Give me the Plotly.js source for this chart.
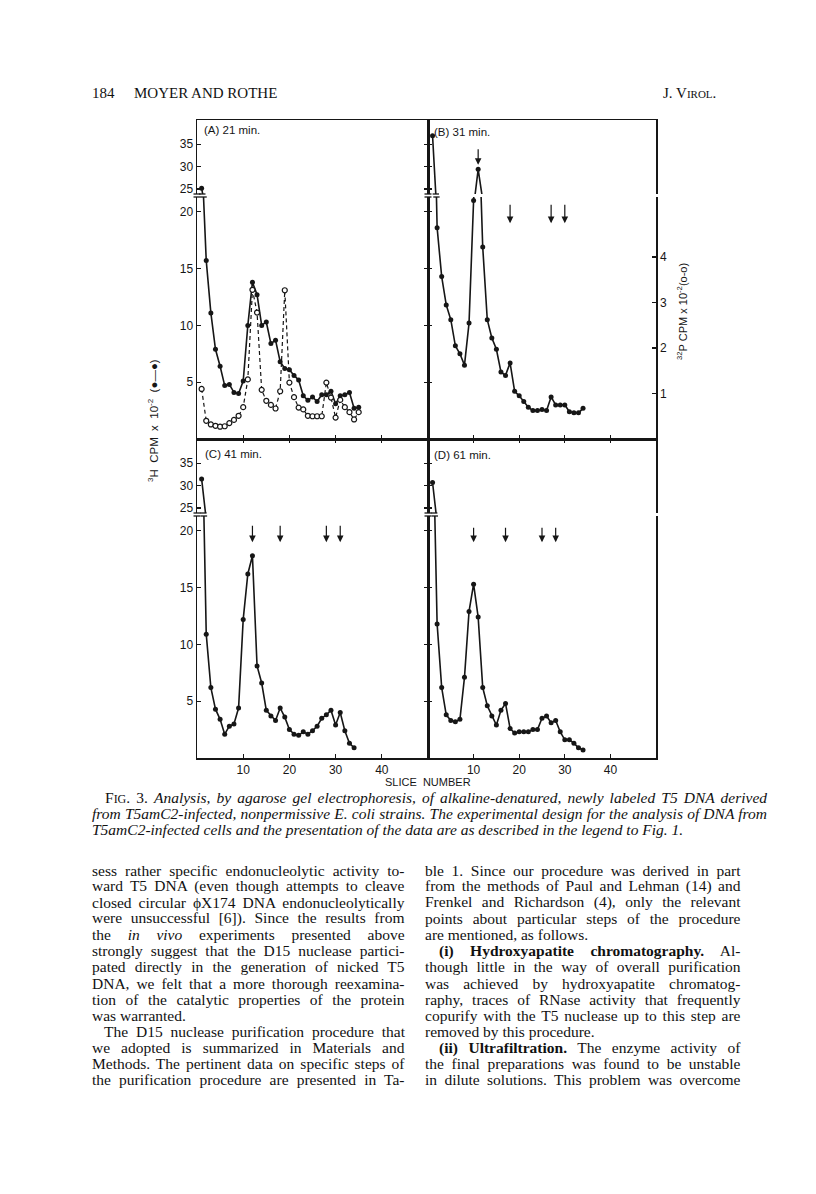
<!DOCTYPE html>
<html>
<head>
<meta charset="utf-8">
<script src="https://cdn.plot.ly/plotly-3.0.1.min.js"></script>
<style>
  html, body { margin: 0; padding: 0; background: #fff; }
  #page { width: 816px; height: 1194px; }
</style>
</head>
<body>
<div id="page"></div>
<script>
// counts per gel slice (CPM x 10^-2)
var h3A = [25.2, 15.7, 11.1, 7.9, 6.4, 4.7, 4.8, 4.1, 4.0, 5.1, 10.0, 13.8, 12.7, 10.0, 10.3, 8.4, 8.7, 6.8,
           6.2, 6.1, 5.6, 5.2, 3.8, 3.4, 3.7, 3.3, 3.9, 3.9, 4.2, 3.1, 3.8, 3.9, 4.1, 2.7, 2.8];
var p32A = [1.10, 0.40, 0.32, 0.29, 0.27, 0.28, 0.35, 0.42, 0.51, 0.70, 1.31, 3.28, 2.78, 1.08, 0.84, 0.75,
            0.67, 1.05, 3.27, 1.24, 0.92, 0.69, 0.65, 0.51, 0.50, 0.50, 0.50, 1.24, 0.91, 0.47, 0.86, 0.70,
            0.59, 0.43, 0.59];
var h3B = [36.9, 18.6, 14.3, 11.8, 10.5, 8.2, 7.5, 6.5, 10.2, 21.0, 29.4, 16.9, 10.5, 8.9, 7.9, 5.9, 5.6,
           6.7, 4.2, 3.8, 3.3, 2.8, 2.5, 2.5, 2.6, 2.5, 3.7, 3.0, 3.0, 3.0, 2.4, 2.3, 2.3, 2.7];
var h3C = [31.5, 10.9, 6.2, 4.3, 3.4, 2.1, 2.8, 3.0, 4.4, 12.2, 16.2, 17.8, 8.1, 6.6, 4.2, 3.7, 3.3, 4.4,
           3.6, 2.5, 2.1, 2.0, 2.3, 2.1, 2.4, 2.8, 3.5, 3.8, 4.2, 2.9, 4.0, 2.4, 1.3, 0.9];
var h3D = [30.7, 11.8, 6.2, 3.8, 3.3, 3.2, 3.4, 7.1, 12.9, 15.3, 12.4, 6.2, 4.6, 3.7, 2.9, 4.2, 4.8, 2.6,
           2.2, 2.3, 2.3, 2.3, 2.5, 2.5, 3.5, 3.7, 3.1, 3.3, 2.3, 1.6, 1.6, 1.3, 0.9, 0.7];

// slices marked with arrows
var arrowsB = [11, 18, 27, 30];
var arrowsC = [12, 18, 28, 31];
var arrowsD = [10, 17, 25, 28];

var xTicks = [10, 20, 30, 40];
var yTicksLow = [5, 10, 15, 20];
var yTicksHigh = [25, 30, 35];
var p32Ticks = [1, 2, 3, 4];
var panelLabels = ['(A) 21 min.', '(B) 31 min.', '(C) 41 min.', '(D) 61 min.'];

var W = 816, H = 1194;
function fx(p) { return p / W; }
function fy(p) { return 1 - p / H; }

var lowRange = [0, 21.3], highRange = [23.9, 40.4], p32Range = [0, 5.32];
var colL = [197, 428], colR = [428, 656];
var rows = [{t: 120, b: 439}, {t: 439, b: 758}];
function lowDom(r) { return [fy(r.b), fy(r.b - 242)]; }
function highDom(r) { return [fy(r.t + 74), fy(r.t)]; }

var ink = '#161616';
var sans = 'Liberation Sans, Arial, sans-serif';
var serif = 'Liberation Serif, Times New Roman, serif';

function slices(vals) { return vals.map(function (v, i) { return i + 1; }); }

function solid(vals, xa, ya) {
    return {
        x: slices(vals), y: vals, xaxis: xa, yaxis: ya,
        mode: 'lines+markers', showlegend: false, hoverinfo: 'skip',
        line: {color: ink, width: 1.6},
        marker: {color: ink, size: 5}
    };
}

var data = [
    {
        x: slices(p32A), y: p32A, xaxis: 'x', yaxis: 'y9',
        mode: 'lines+markers', showlegend: false, hoverinfo: 'skip',
        line: {color: ink, width: 1.2, dash: '4px,3px'},
        marker: {color: '#fff', size: 5, line: {color: ink, width: 1.2}}
    },
    solid(h3A, 'x', 'y'), solid(h3A, 'x2', 'y2'),
    solid(h3B, 'x3', 'y3'), solid(h3B, 'x4', 'y4'),
    solid(h3C, 'x5', 'y5'), solid(h3C, 'x6', 'y6'),
    solid(h3D, 'x7', 'y7'), solid(h3D, 'x8', 'y8'),
    // empty trace so the 32P scale on the right of panel B gets drawn
    {x: [null], y: [null], xaxis: 'x3', yaxis: 'y10', mode: 'markers', showlegend: false, hoverinfo: 'skip'}
];

function axBase() {
    return {
        showgrid: false, zeroline: false, showline: true, linecolor: ink, linewidth: 1.5,
        ticks: 'inside', ticklen: 4, tickwidth: 1.3, tickcolor: ink,
        tickfont: {family: sans, size: 12, color: ink}, fixedrange: true
    };
}
function xAx(dom, anchor, opts) {
    return Object.assign(axBase(), {domain: dom, anchor: anchor, range: [0, 50], tickvals: xTicks,
        showticklabels: false}, opts || {});
}
function yAx(dom, anchor, range, ticks, opts) {
    return Object.assign(axBase(), {domain: dom, anchor: anchor, range: range, tickvals: ticks,
        showticklabels: false}, opts || {});
}
var dL = [fx(colL[0]), fx(colL[1])], dR = [fx(colR[0]), fx(colR[1])];

var layout = {
    width: W, height: H, autosize: false,
    margin: {l: 0, r: 0, t: 0, b: 0},
    paper_bgcolor: '#fff', plot_bgcolor: 'rgba(0,0,0,0)',
    font: {family: sans, color: ink},
    // panel A
    xaxis: xAx(dL, 'y'),
    xaxis2: xAx(dL, 'y2', {side: 'top', ticks: ''}),
    yaxis: yAx(lowDom(rows[0]), 'x', lowRange, yTicksLow, {showticklabels: true, mirror: 'ticks'}),
    yaxis2: yAx(highDom(rows[0]), 'x2', highRange, yTicksHigh, {showticklabels: true, mirror: 'ticks'}),
    yaxis9: {overlaying: 'y', range: p32Range, visible: false, fixedrange: true},
    // panel B
    xaxis3: xAx(dR, 'y3'),
    xaxis4: xAx(dR, 'y4', {side: 'top', ticks: ''}),
    yaxis3: yAx(lowDom(rows[0]), 'x3', lowRange, yTicksLow),
    yaxis4: yAx(highDom(rows[0]), 'x4', highRange, yTicksHigh, {mirror: true}),
    yaxis10: yAx(lowDom(rows[0]), 'x3', p32Range, p32Ticks, {overlaying: 'y3', side: 'right',
        showticklabels: true}),
    // panel C
    xaxis5: xAx(dL, 'y5', {showticklabels: true}),
    xaxis6: xAx(dL, 'y6', {side: 'top'}),
    yaxis5: yAx(lowDom(rows[1]), 'x5', lowRange, yTicksLow, {showticklabels: true, mirror: 'ticks'}),
    yaxis6: yAx(highDom(rows[1]), 'x6', highRange, yTicksHigh, {showticklabels: true, mirror: 'ticks'}),
    // panel D
    xaxis7: xAx(dR, 'y7', {showticklabels: true}),
    xaxis8: xAx(dR, 'y8', {side: 'top'}),
    yaxis7: yAx(lowDom(rows[1]), 'x7', lowRange, yTicksLow, {mirror: true}),
    yaxis8: yAx(highDom(rows[1]), 'x8', highRange, yTicksHigh, {mirror: true}),
    shapes: [],
    annotations: []
};

// axis break marks on the frame lines and on the data line
function hLine(x0, x1, y, xref) {
    return {type: 'line', xref: xref || 'paper', yref: 'paper', x0: x0, x1: x1, y0: y, y1: y,
        line: {color: ink, width: 1.3}};
}
rows.forEach(function (r) {
    [colL[0], colL[1]].forEach(function (px) {
        layout.shapes.push(hLine(fx(px - 3.5), fx(px + 3.5), fy(r.t + 74)));
        layout.shapes.push(hLine(fx(px - 3.5), fx(px + 3.5), fy(r.t + 77)));
    });
});
function crossing(vals, level) {
    for (var i = 0; i < vals.length - 1; i++) {
        if (vals[i] > level && vals[i + 1] <= level) {
            return i + 1 + (vals[i] - level) / (vals[i] - vals[i + 1]);
        }
    }
}
[[h3A, 'x', rows[0]], [h3B, 'x3', rows[0]], [h3C, 'x5', rows[1]], [h3D, 'x7', rows[1]]].forEach(function (p) {
    var cu = crossing(p[0], highRange[0]), cl = crossing(p[0], lowRange[1]);
    layout.shapes.push(hLine(cu - 0.7, cu + 0.7, fy(p[2].t + 74), p[1]));
    layout.shapes.push(hLine(cl - 0.7, cl + 0.7, fy(p[2].t + 77), p[1]));
});

// arrows over the slices
function arrow(x, y, xa, ya, len) {
    return {x: x, y: y, xref: xa, yref: ya, text: '', showarrow: true, ax: 0, ay: -len,
        arrowhead: 2, arrowsize: 1.1, arrowwidth: 1.2, arrowcolor: ink};
}
layout.annotations.push(arrow(arrowsB[0], 30.4, 'x4', 'y4', 17));
arrowsB.slice(1).forEach(function (s) { layout.annotations.push(arrow(s, 19.0, 'x3', 'y3', 20)); });
arrowsC.forEach(function (s) { layout.annotations.push(arrow(s, 19.0, 'x5', 'y5', 18)); });
arrowsD.forEach(function (s) { layout.annotations.push(arrow(s, 19.0, 'x7', 'y7', 16)); });

function label(text, x, y, opts) {
    var a = Object.assign({text: text, x: fx(x), y: fy(y), xref: 'paper', yref: 'paper',
        showarrow: false, xanchor: 'left', yanchor: 'middle', align: 'left',
        font: {family: sans, size: 11.5, color: ink}}, opts || {});
    layout.annotations.push(a);
    return layout.annotations.length - 1;
}

label(panelLabels[0], 202, 130);
label(panelLabels[1], 432, 132);
label(panelLabels[2], 203, 454);
label(panelLabels[3], 432, 455);
label('SLICE  NUMBER', 428, 782, {xanchor: 'center', font: {family: sans, size: 11, color: ink}});
label('<sup>3</sup>H  CPM  x  10<sup>-2</sup>  (●—●)', 153, 421,
    {xanchor: 'center', textangle: -90, font: {family: sans, size: 11.5, color: ink}});
label('<sup>32</sup>P CPM x 10<sup>-2</sup>(o-o)', 682, 312,
    {xanchor: 'center', textangle: -90, font: {family: sans, size: 11, color: ink}});

// page text
var justify = {};
function serifLine(text, x, y, size, width) {
    var i = label(text, x, y, {font: {family: serif, size: size, color: '#111'}});
    if (width) justify[i] = width;
}
serifLine('184', 90, 93, 15);
serifLine('MOYER AND ROTHE', 132, 93, 15);
label('J. V<span style="font-size:11px">IROL</span>.', 718, 93,
    {xanchor: 'right', font: {family: serif, size: 15, color: '#111'}});

var captionLines = [
    'F<span style="font-size:12px">IG</span>. 3. <i>Analysis, by agarose gel electrophoresis, of alkaline-denatured, newly labeled T5 DNA derived</i>',
    '<i>from T5amC2-infected, nonpermissive E. coli strains. The experimental design for the analysis of DNA from</i>',
    '<i>T5amC2-infected cells and the presentation of the data are as described in the legend to Fig. 1.</i>'
];
serifLine(captionLines[0], 103, 797, 15.5, 765 - 103);
serifLine(captionLines[1], 90, 813, 15.5, 765 - 90);
serifLine(captionLines[2], 90, 829, 15.5);

var leftCol = [
    ['sess rather specific endonucleolytic activity to-', 'j'],
    ['ward T5 DNA (even though attempts to cleave', 'j'],
    ['closed circular ϕX174 DNA endonucleolytically', 'j'],
    ['were unsuccessful [6]). Since the results from', 'j'],
    ['the <i>in vivo</i> experiments presented above', 'j'],
    ['strongly suggest that the D15 nuclease partici-', 'j'],
    ['pated directly in the generation of nicked T5', 'j'],
    ['DNA, we felt that a more thorough reexamina-', 'j'],
    ['tion of the catalytic properties of the protein', 'j'],
    ['was warranted.', 'e'],
    ['The D15 nuclease purification procedure that', 'i'],
    ['we adopted is summarized in Materials and', 'j'],
    ['Methods. The pertinent data on specific steps of', 'j'],
    ['the purification procedure are presented in Ta-', 'j']
];
var rightCol = [
    ['ble 1. Since our procedure was derived in part', 'j'],
    ['from the methods of Paul and Lehman (14) and', 'j'],
    ['Frenkel and Richardson (4), only the relevant', 'j'],
    ['points about particular steps of the procedure', 'j'],
    ['are mentioned, as follows.', 'e'],
    ['<b>(i) Hydroxyapatite chromatography.</b> Al-', 'i'],
    ['though little in the way of overall purification', 'j'],
    ['was achieved by hydroxyapatite chromatog-', 'j'],
    ['raphy, traces of RNase activity that frequently', 'j'],
    ['copurify with the T5 nuclease up to this step are', 'j'],
    ['removed by this procedure.', 'e'],
    ['<b>(ii) Ultrafiltration.</b> The enzyme activity of', 'i'],
    ['the final preparations was found to be unstable', 'j'],
    ['in dilute solutions. This problem was overcome', 'j']
];
function column(lines, left, indent, right) {
    lines.forEach(function (ln, i) {
        var y = 870 + i * 16.15;
        if (ln[1] === 'e') serifLine(ln[0], left, y, 15.5);
        else if (ln[1] === 'i') serifLine(ln[0], indent, y, 15.5, right - indent);
        else serifLine(ln[0], left, y, 15.5, right - left);
    });
}
column(leftCol, 90, 101.5, 402.5);
column(rightCol, 422.5, 436.5, 738);

Plotly.newPlot('page', data, layout, {staticPlot: true, displayModeBar: false}).then(function (gd) {
    // spread justified lines to the column width
    gd.querySelectorAll('g.annotation').forEach(function (g) {
        var w = justify[+g.getAttribute('data-index')];
        if (!w) return;
        var t = g.querySelector('text.annotation-text');
        var spaces = (t.textContent.match(/ /g) || []).length;
        if (spaces) t.style.wordSpacing = ((w - t.getComputedTextLength()) / spaces) + 'px';
    });
});
</script>
</body>
</html>
